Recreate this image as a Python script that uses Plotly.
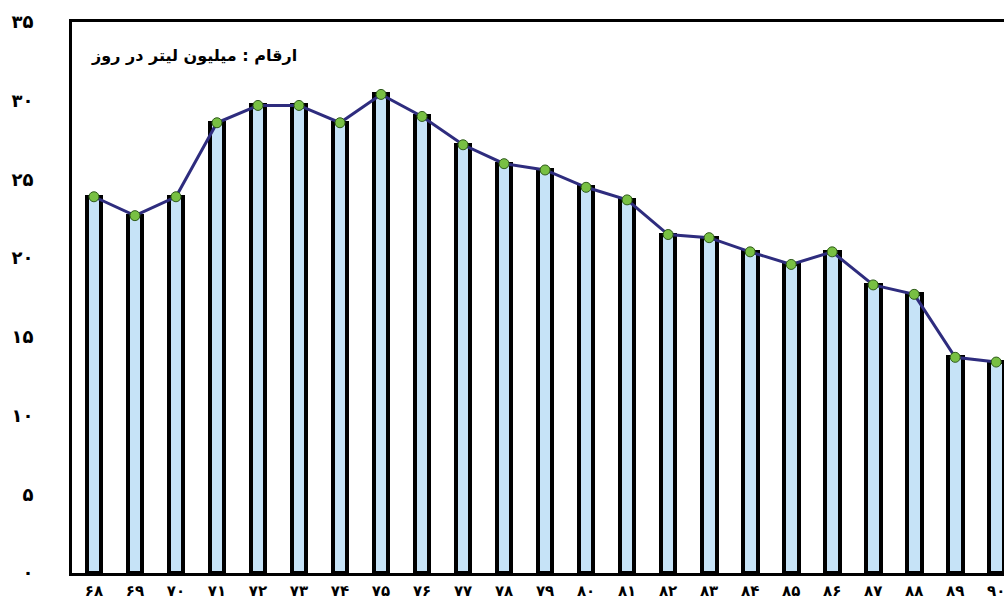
import plotly.graph_objects as go

years = ["۶۸", "۶۹", "۷۰", "۷۱", "۷۲", "۷۳", "۷۴", "۷۵", "۷۶", "۷۷", "۷۸", "۷۹",
         "۸۰", "۸۱", "۸۲", "۸۳", "۸۴", "۸۵", "۸۶", "۸۷", "۸۸", "۸۹", "۹۰"]
values = [23.9, 22.7, 23.9, 28.6, 29.7, 29.7, 28.6, 30.4, 29.0, 27.2, 26.0, 25.6,
          24.5, 23.7, 21.5, 21.3, 20.4, 19.6, 20.4, 18.3, 17.7, 13.7, 13.4]
y_ticks = [0, 5, 10, 15, 20, 25, 30, 35]
y_tick_labels = ["۰", "۵", "۱۰", "۱۵", "۲۰", "۲۵", "۳۰", "۳۵"]
title_text = "ارقام : میلیون لیتر در روز"

FONT = "DejaVu Sans"
idx = list(range(len(years)))

fig = go.Figure()
fig.add_trace(go.Bar(
    x=idx, y=values, width=0.36,
    marker=dict(color="#C6E3F7", line=dict(color="black", width=4)),
    hoverinfo="skip",
))
fig.add_trace(go.Scatter(
    x=idx, y=values, mode="lines+markers",
    line=dict(color="#2E2C7E", width=3),
    marker=dict(size=10, color="#78C043", line=dict(color="#2E5A1A", width=1)),
    cliponaxis=False,
))

fig.update_layout(
    width=1004, height=601,
    margin=dict(l=72, r=0, t=22, b=28, autoexpand=False),
    paper_bgcolor="white", plot_bgcolor="white",
    showlegend=False,
    bargap=0,
    annotations=[dict(
        text="<b>" + title_text + "</b>", xref="paper", yref="paper",
        x=0.018, y=0.94, xanchor="left", yanchor="middle", showarrow=False,
        font=dict(family=FONT, size=16, color="black"),
    )],
)
fig.update_xaxes(
    range=[-0.535, 22.19], automargin=False,
    tickmode="array", tickvals=idx, ticktext=["<b>%s</b>" % t for t in years],
    tickfont=dict(family=FONT, size=15, color="black"),
    showgrid=False, zeroline=False,
    showline=True, linecolor="black", linewidth=3, mirror=True,
    ticks="", ticklabelstandoff=2, ticklabeloverflow="allow",
)
fig.update_yaxes(
    range=[0, 35], automargin=False,
    tickmode="array", tickvals=y_ticks, ticktext=["<b>%s</b>" % t for t in y_tick_labels],
    tickfont=dict(family=FONT, size=18, color="black"),
    showgrid=False, zeroline=False,
    showline=True, linecolor="black", linewidth=3, mirror=False,
    ticks="", ticklabelstandoff=32, ticklabeloverflow="allow",
)

fig.write_html(
    "out.html",
    config={"displayModeBar": False},
    post_script="document.body.style.margin='0';document.body.style.overflow='hidden';",
)
